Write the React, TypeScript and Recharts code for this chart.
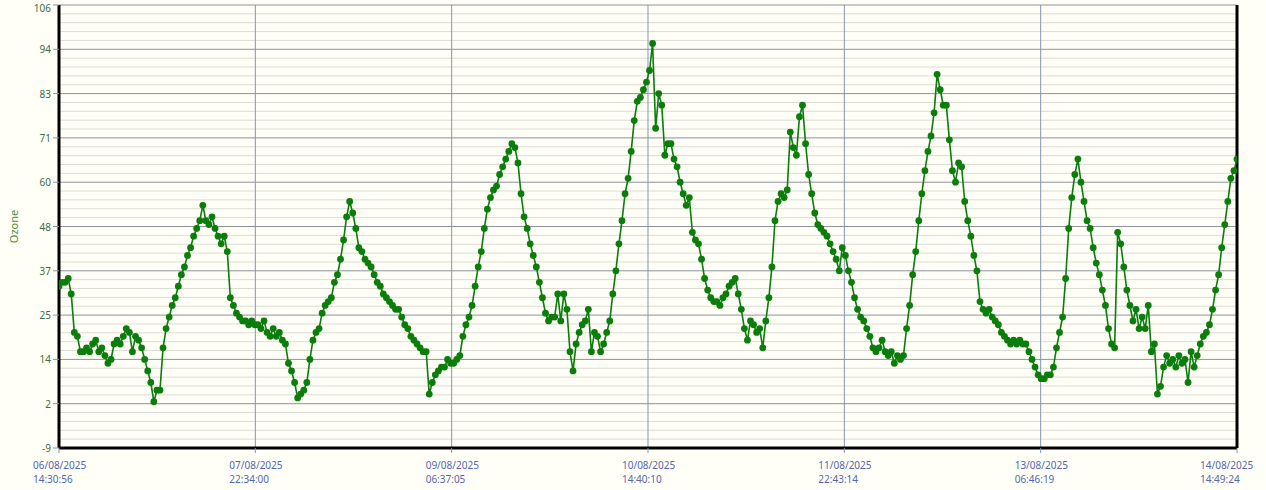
import {
  CartesianGrid,
  Line,
  LineChart,
  ReferenceLine,
  XAxis,
  YAxis,
} from "recharts";

// Ozone readings, roughly every half hour, one block per grid interval
const ozoneBlock1 = [
  33, 34, 34, 35, 31, 21, 20, 16, 16, 17,
  16, 18, 19, 16, 17, 15, 13, 14, 18, 19,
  18, 20, 22, 21, 16, 20, 19, 17, 14, 11,
  8, 3, 6, 6, 17, 22, 25, 28, 30, 33,
  36, 38, 41, 43, 46, 48, 50, 54, 50, 49,
  51, 48, 46, 44, 46, 42, 30, 28, 26, 25,
  24, 24, 23, 24, 23,
];
const ozoneBlock2 = [
  23, 22, 24, 21, 20, 22, 20, 21, 19, 18,
  13, 11, 8, 4, 5, 6, 8, 14, 19, 21,
  22, 26, 28, 29, 30, 34, 36, 40, 45, 51,
  55, 52, 48, 43, 42, 40, 39, 38, 36, 34,
  33, 31, 30, 29, 28, 27, 27, 25, 23, 22,
  20, 19, 18, 17, 16, 16, 5, 8, 10, 11,
  12, 12, 14, 13,
];
const ozoneBlock3 = [
  13, 14, 15, 20, 23, 25, 28, 33, 38, 42,
  48, 53, 56, 58, 59, 62, 64, 66, 68, 70,
  69, 65, 57, 51, 48, 44, 41, 38, 34, 30,
  26, 24, 25, 25, 31, 24, 31, 27, 16, 11,
  18, 21, 23, 24, 27, 16, 21, 20, 16, 18,
  21, 24, 31, 37, 44, 50, 57, 61, 68, 76,
  81, 82, 84, 86,
];
const ozoneBlock4 = [
  89, 96, 74, 83, 80, 67, 70, 70, 66, 64,
  60, 57, 54, 56, 47, 45, 44, 40, 35, 32,
  30, 29, 29, 28, 30, 31, 33, 34, 35, 31,
  27, 22, 19, 24, 23, 21, 22, 17, 24, 30,
  38, 50, 55, 57, 56, 58, 73, 69, 67, 77,
  80, 70, 62, 57, 52, 49, 48, 47, 46, 44,
  42, 40, 37, 43,
];
const ozoneBlock5 = [
  41, 37, 34, 30, 27, 25, 24, 22, 20, 17,
  16, 17, 19, 16, 15, 16, 13, 15, 14, 15,
  22, 28, 36, 42, 50, 57, 63, 68, 72, 78,
  88, 84, 80, 80, 71, 63, 60, 65, 64, 55,
  50, 46, 41, 37, 29, 27, 26, 27, 25, 24,
  23, 21, 20, 19, 18, 19, 18, 19, 18, 18,
  16, 14, 12, 10,
];
const ozoneBlock6 = [
  9, 9, 10, 10, 12, 17, 21, 25, 35, 48,
  56, 62, 66, 60, 55, 50, 48, 43, 39, 36,
  32, 28, 22, 18, 17, 47, 44, 38, 32, 28,
  24, 27, 22, 25, 22, 28, 16, 18, 5, 7,
  12, 15, 13, 14, 12, 15, 13, 14, 8, 16,
  12, 15, 18, 20, 21, 23, 27, 32, 36, 43,
  49, 55, 61, 63, 66,
];

const ozone = [
  ...ozoneBlock1,
  ...ozoneBlock2,
  ...ozoneBlock3,
  ...ozoneBlock4,
  ...ozoneBlock5,
  ...ozoneBlock6,
];

// hours since 06/08/2025 14:30:56
const totalHours = 192.3067;
const xTicks = [0, 32.0511, 64.1022, 96.1533, 128.2044, 160.2556, 192.3067];
const xDates = [
  "06/08/2025",
  "07/08/2025",
  "09/08/2025",
  "10/08/2025",
  "11/08/2025",
  "13/08/2025",
  "14/08/2025",
];
const xTimes = [
  "14:30:56",
  "22:34:00",
  "06:37:05",
  "14:40:10",
  "22:43:14",
  "06:46:19",
  "14:49:24",
];

const yTicks = [-9, 2.5, 14, 25.5, 37, 48.5, 60, 71.5, 83, 94.5, 106];
const yLabels = ["-9", "2", "14", "25", "37", "48", "60", "71", "83", "94", "106"];

const step = totalHours / (ozone.length - 1);
const chartData = ozone.map((v, i) => ({ t: i * step, ozone: v }));

// minor grid: 4 lines between each pair of labelled lines
const minorLines: number[] = [];
for (let k = 0; k <= 50; k++) {
  if (k % 5 !== 0) minorLines.push(-9 + k * 2.3);
}

const FONT = "'Noto Sans', 'DejaVu Sans', sans-serif";

function DateTick(props: any) {
  const { x, y, index } = props;
  const startX = Math.min(x - 26, 1200);
  return (
    <g>
      <text x={startX} y={y + 14} fill="#5566AE" fontSize={10} fontFamily={FONT}>
        {xDates[index]}
      </text>
      <text x={startX} y={y + 28} fill="#5566AE" fontSize={10} fontFamily={FONT}>
        {xTimes[index]}
      </text>
    </g>
  );
}

function ValueTick(props: any) {
  const { x, y, index } = props;
  // keep the top label inside the picture
  const ty = Math.max(y, 8);
  return (
    <text
      x={x}
      y={ty}
      textAnchor="end"
      dominantBaseline="central"
      fill="#3F6B45"
      fontSize={10}
      fontFamily={FONT}
    >
      {yLabels[index]}
    </text>
  );
}

function OzoneLabel(props: any) {
  const vb = props.viewBox || { y: 5, height: 443 };
  const cy = vb.y + vb.height / 2;
  return (
    <text
      x={13}
      y={cy}
      transform={`rotate(-90, 13, ${cy})`}
      textAnchor="middle"
      dominantBaseline="central"
      fill="#4C8A3A"
      fontSize={11}
      fontFamily={FONT}
    >
      Ozone
    </text>
  );
}

export default function App() {
  return (
    <div
      style={{
        position: "absolute",
        left: 0,
        top: 0,
        width: 1266,
        height: 490,
        background: "#FFFFF7",
      }}
    >
      <LineChart
        width={1266}
        height={490}
        data={chartData}
        margin={{ top: 5, right: 29, bottom: 0, left: 0 }}
      >
        <CartesianGrid
          vertical={false}
          horizontalValues={minorLines}
          stroke="#DCDCD3"
          strokeWidth={1}
        />
        <CartesianGrid vertical={false} stroke="#8E929C" strokeWidth={1} />
        <CartesianGrid horizontal={false} stroke="#8495B6" strokeWidth={1} />
        <XAxis
          dataKey="t"
          type="number"
          domain={[0, totalHours]}
          ticks={xTicks}
          interval={0}
          height={42}
          allowDataOverflow
          axisLine={{ stroke: "#000", strokeWidth: 3 }}
          tickLine={{ stroke: "#8495B6" }}
          tickSize={5}
          tick={<DateTick />}
        />
        <YAxis
          type="number"
          domain={[-9, 106]}
          ticks={yTicks}
          interval={0}
          width={59}
          allowDataOverflow
          axisLine={{ stroke: "#000", strokeWidth: 3 }}
          tickLine={{ stroke: "#8E929C" }}
          tickSize={6}
          tick={<ValueTick />}
          label={<OzoneLabel />}
        />
        <ReferenceLine x={totalHours} stroke="#000" strokeWidth={3} />
        <Line
          type="linear"
          dataKey="ozone"
          stroke="#0A7D0A"
          strokeWidth={1.6}
          dot={{ r: 3.4, fill: "#0A7D0A", stroke: "none" }}
          activeDot={false}
          isAnimationActive={false}
        />
      </LineChart>
    </div>
  );
}
